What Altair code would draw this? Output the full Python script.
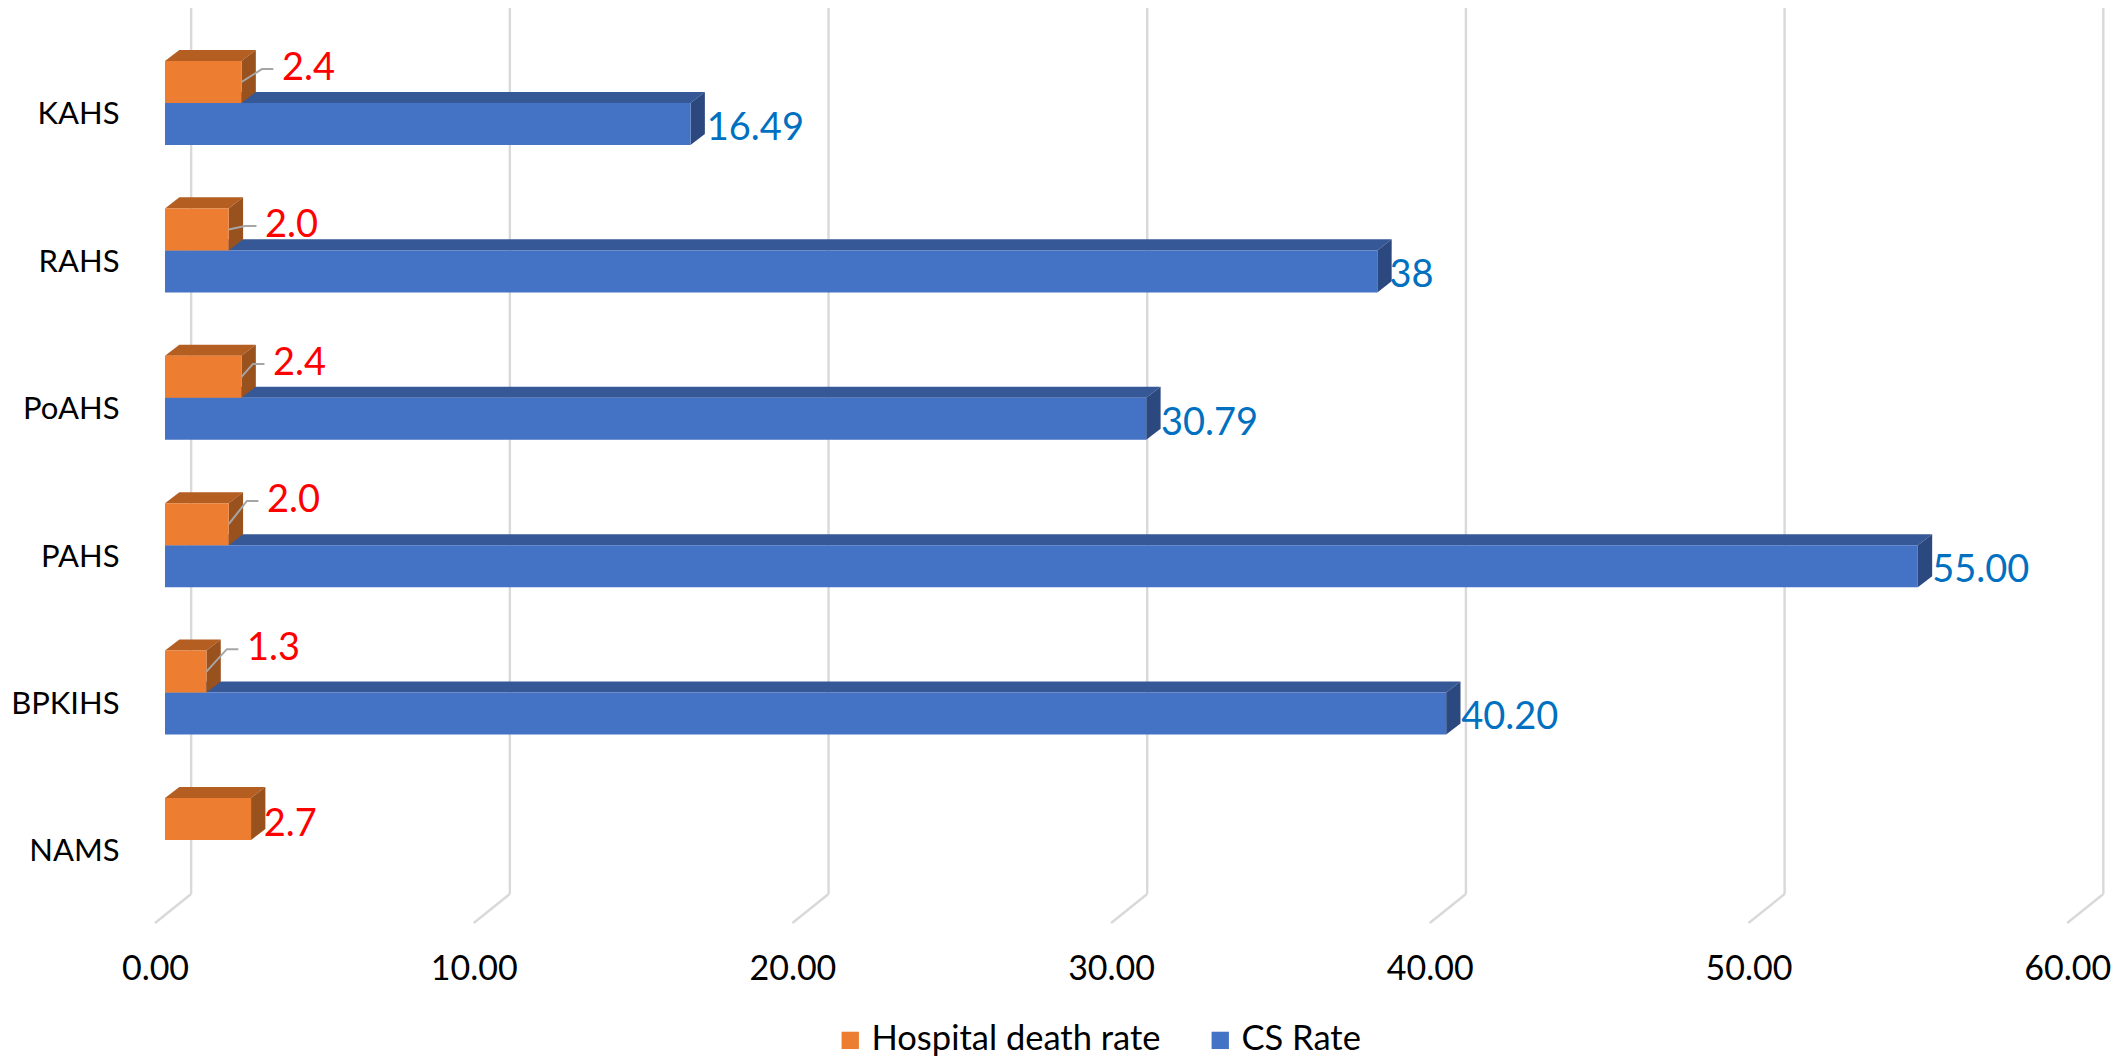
import altair as alt
import pandas as pd

categories = ["NAMS", "BPKIHS", "PAHS", "PoAHS", "RAHS", "KAHS"]
death_rate = [2.7, 1.3, 2.0, 2.4, 2.0, 2.4]
cs_rate = [None, 40.20, 55.00, 30.79, 38.04, 16.49]
cs_text = ["", "40.20", "55.00", "30.79", "38", "16.49"]
death_text = ["2.7", "1.3", "2.0", "2.4", "2.0", "2.4"]
ticks = [0, 10, 20, 30, 40, 50, 60]
series_names = ["Hospital death rate", "CS Rate"]

# label placement, in axis units (x) and category units (y)
death_label_x = [3.1, 2.57, 3.2, 3.39, 3.14, 3.67]
death_label_y = [0.10, 0.295, 0.30, 0.23, 0.165, 0.23]
has_leader = [False, True, True, True, True, True]
cs_label_x = [None, 40.67, 55.45, 31.25, 38.42, 17.0]
cs_label_y = [0, -0.175, -0.175, -0.175, -0.175, -0.175]

# 3-D look, axis units
T = 0.285      # bar thickness
DX = 0.45      # depth of the bar, x
DY = 0.075     # depth of the bar, y
BACK = 0.82    # wall offset of gridlines
TIP = 0.314    # floor tip offset, left of zero
FLOOR = -0.3665
Y_TOP = 5.6445
Y_BOTTOM = -0.563

ORANGE, ORANGE_TOP, ORANGE_SIDE = "#ED7D31", "#B45E22", "#99511D"
BLUE, BLUE_TOP, BLUE_SIDE = "#4472C4", "#365896", "#2C497F"
FONT = "Lato"

x_scale = alt.Scale(domain=[-TIP, 61.03], nice=False, zero=False)
y_scale = alt.Scale(domain=[Y_BOTTOM, Y_TOP], nice=False, zero=False)

cat_expr = "[" + ",".join(f"'{c}'" for c in categories) + "][round(datum.value + 0.08)]"
x_axis = alt.Axis(
    values=[t - TIP for t in ticks],
    labelExpr=f"format(datum.value + {TIP}, '.2f')",
    domain=False, ticks=False, grid=False, labelPadding=29, title=None,
    labelFont=FONT, labelFontSize=34, labelColor="#000000", labelFlush=False,
    labelOverlap=False,
)
y_axis = alt.Axis(
    values=[i - 0.08 for i in range(6)],
    labelExpr=cat_expr,
    domain=False, ticks=False, grid=False, labelPadding=36, title=None,
    labelFont=FONT, labelFontSize=31, labelColor="#000000",
    labelOverlap=False,
)


def X(name="x"):
    return alt.X(f"{name}:Q", scale=x_scale, axis=x_axis)


def Y(name="y"):
    return alt.Y(f"{name}:Q", scale=y_scale, axis=y_axis)


# gridlines on the wall and floor
wall = pd.DataFrame({"x": [t + BACK for t in ticks], "y": [FLOOR] * 7, "y2": [Y_TOP] * 7})
grid = alt.Chart(wall).mark_rule(color="#D9D9D9", strokeWidth=2.4).encode(
    X(), Y(), y2="y2:Q"
)
floor_rows = []
for t in ticks:
    floor_rows.append({"t": t, "x": t + BACK, "y": FLOOR})
    floor_rows.append({"t": t, "x": t - TIP, "y": Y_BOTTOM})
floor = alt.Chart(pd.DataFrame(floor_rows)).mark_line(
    color="#D9D9D9", strokeWidth=2.4
).encode(X(), Y(), detail="t:N")


def bars(values, y_low, top_color, side_color, name):
    front, top, side = [], [], []
    for i, v in enumerate(values):
        if v is None:
            continue
        lo = i + y_low
        hi = lo + T
        front.append({"series": name, "x": 0, "x2": v, "y": lo, "y2": hi})
        top.append({"k": i, "y": hi, "x": 0, "x2": v})
        top.append({"k": i, "y": hi + DY, "x": DX, "x2": v + DX})
        side.append({"k": i, "x": v, "y": lo, "y2": hi})
        side.append({"k": i, "x": v + DX, "y": lo + DY, "y2": hi + DY})
    top_layer = alt.Chart(pd.DataFrame(top)).mark_area(
        orient="horizontal", color=top_color
    ).encode(X(), x2="x2:Q", y=Y(), detail="k:N")
    side_layer = alt.Chart(pd.DataFrame(side)).mark_area(
        orient="vertical", color=side_color
    ).encode(X(), y=Y(), y2="y2:Q", detail="k:N")
    front_layer = alt.Chart(pd.DataFrame(front)).mark_rect().encode(
        X(), x2="x2:Q", y=Y(), y2="y2:Q",
        color=alt.Color(
            "series:N",
            scale=alt.Scale(domain=series_names, range=[ORANGE, BLUE]),
            legend=alt.Legend(
                orient="none", legendX=678, legendY=1015, direction="horizontal",
                title=None, symbolType="square", symbolSize=300,
                symbolStrokeWidth=0, labelFont=FONT, labelFontSize=34.5,
                labelLimit=500, labelColor="#000000", columnPadding=42, labelOffset=4,
            ),
        ),
    )
    return [top_layer, side_layer, front_layer]


blue_layers = bars(cs_rate, -T, BLUE_TOP, BLUE_SIDE, series_names[1])
orange_layers = bars(death_rate, 0, ORANGE_TOP, ORANGE_SIDE, series_names[0])

# leader lines
leader_rows = []
for i, (v, lx, ly, has) in enumerate(zip(death_rate, death_label_x, death_label_y, has_leader)):
    if not has:
        continue
    yy = i + ly
    leader_rows.append({"k": i, "o": 0, "x": v, "y": i + T / 2})
    leader_rows.append({"k": i, "o": 1, "x": lx - 0.63, "y": yy})
    leader_rows.append({"k": i, "o": 2, "x": lx - 0.27, "y": yy})
leaders = alt.Chart(pd.DataFrame(leader_rows)).mark_line(
    color="#A6A6A6", strokeWidth=2
).encode(X(), Y(), order="o:Q", detail="k:N")

death_df = pd.DataFrame({
    "x": death_label_x,
    "y": [i + d for i, d in enumerate(death_label_y)],
    "t": death_text,
})
death_labels = alt.Chart(death_df).mark_text(
    align="left", baseline="middle", color="#FF0000", font=FONT, fontSize=38
).encode(X(), Y(), text="t:N")

cs_df = pd.DataFrame({
    "x": cs_label_x,
    "y": [i + d for i, d in enumerate(cs_label_y)],
    "t": cs_text,
}).dropna()
cs_labels = alt.Chart(cs_df).mark_text(
    align="left", baseline="middle", color="#0070C0", font=FONT, fontSize=38
).encode(X(), Y(), text="t:N")

chart = alt.layer(
    grid, floor, *blue_layers, *orange_layers, leaders, death_labels, cs_labels
).resolve_scale(x="shared", y="shared").properties(
    width=1955, height=915,
    autosize=alt.AutoSizeParams(type="none"),
    padding={"left": 147, "top": 0, "right": 10, "bottom": 133},
    background="#FFFFFF",
).configure_view(stroke=None)

chart.save("out.html", embed_options={"renderer": "svg", "actions": False})
